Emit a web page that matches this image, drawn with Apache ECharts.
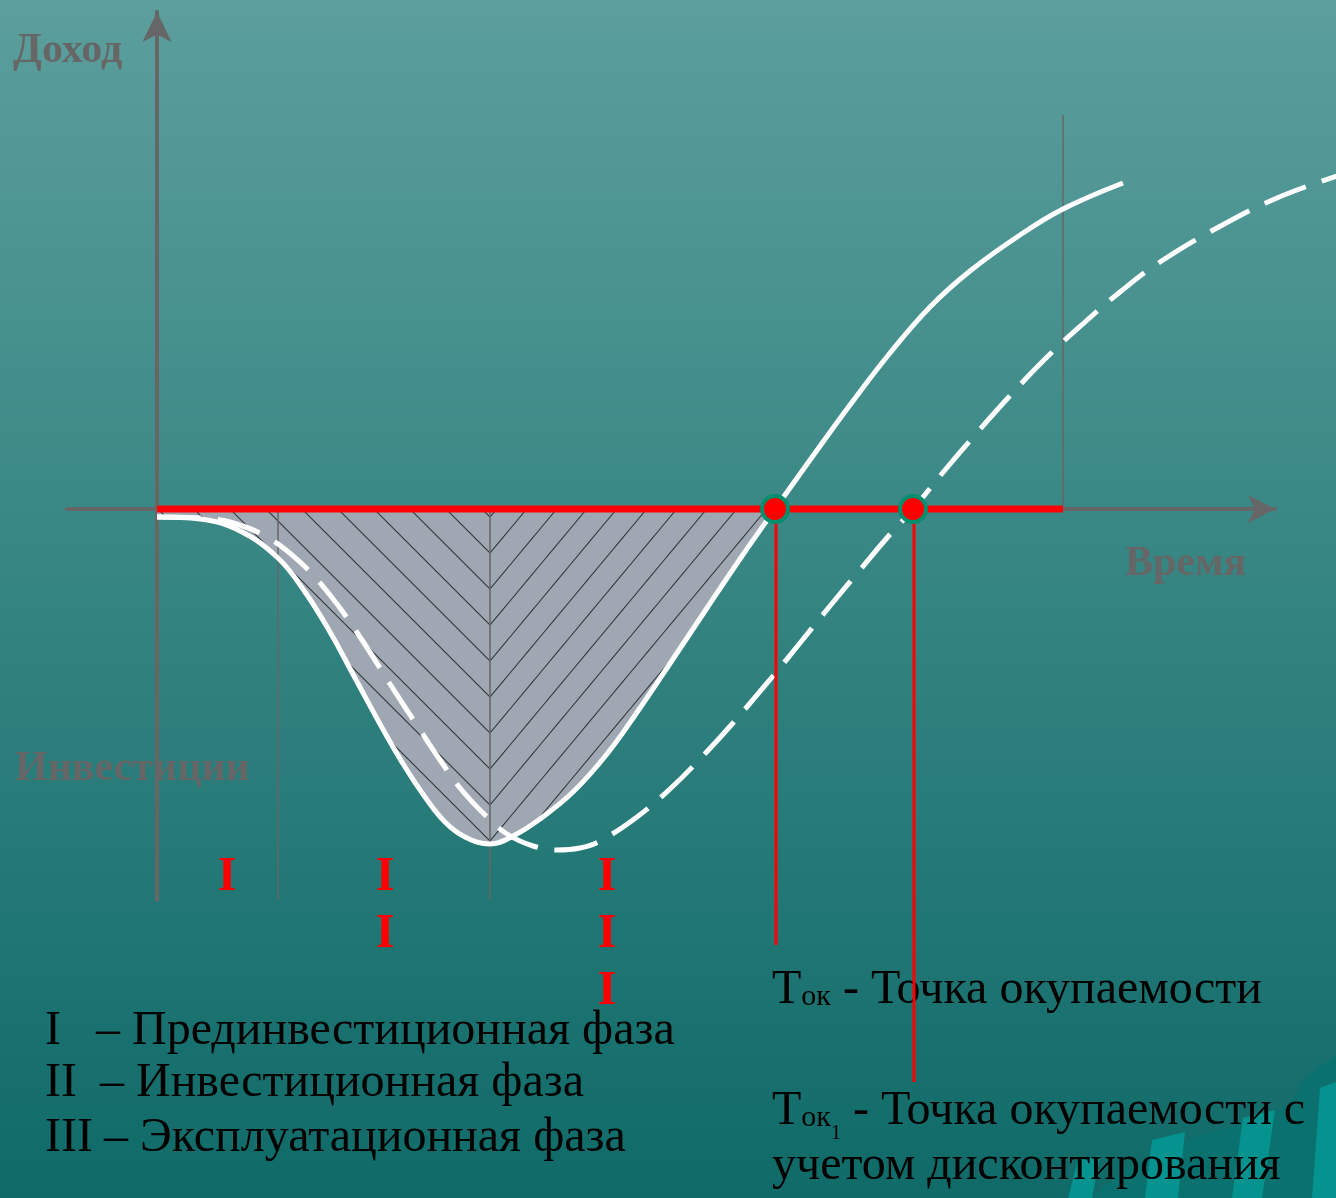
<!DOCTYPE html>
<html>
<head>
<meta charset="utf-8">
<script src="https://cdn.jsdelivr.net/npm/echarts@6/dist/echarts.min.js"></script>
<style>
html,body{margin:0;padding:0;overflow:hidden;background:#2f817f;}
#main{width:1336px;height:1198px;}
</style>
</head>
<body>
<div id="main"></div>
<script>
// ---- data (x: time from origin, y: income; units) ----
const solidCurve = [[0,-8],[43,-10],[83,-22],[121,-49],[148,-83],[173,-123],[198,-169],[223,-215],[248,-258],[268,-288],[288,-313],[308,-328],[333,-335],[356,-327],[383,-310],[416,-283],[450,-245],[483,-199],[516,-150],[550,-99],[583,-50],[618,0],[653,49],[693,104],[733,156],[773,202],[813,238],[863,274],[906,300],[966,326]];
const dashedCurve = [[0,-8],[43,-9],[73,-13],[110,-28],[143,-53],[173,-86],[203,-128],[233,-175],[263,-221],[283,-251],[303,-279],[328,-306],[350,-325],[376,-337],[400,-341],[423,-339],[443,-332],[480,-308],[513,-280],[543,-250],[576,-214],[616,-167],[643,-134],[673,-97],[703,-61],[729,-30],[756,0],[788,39],[818,74],[850,110],[888,150],[928,187],[963,217],[1000,245],[1060,281],[1120,311],[1183,334]];
const paybackPoints = [[618,0],[756,0]];
const paybackDrops = [-436,-573];
const phaseBounds = [121,333];
const horizonX = 906;
const horizonTop = 394;
const axisMinY = -391, axisMaxY = 497, axisMinX = -90, axisMaxX = 1118;
const phaseNumerals = ['I','II','III'];
const phaseNames = ['Прединвестиционная фаза','Инвестиционная фаза','Эксплуатационная фаза'];
const yLabel = 'Доход', xLabel = 'Время', invLabel = 'Инвестиции';
const paybackText = 'Точка окупаемости';
const paybackDiscText = ['Точка окупаемости с', 'учетом дисконтирования'];

// ---- hatch patterns ----
function hatch(left){
  const c = document.createElement('canvas');
  const tw = left ? 36 : 30, th = 36;
  c.width = tw; c.height = th;
  const g = c.getContext('2d');
  g.fillStyle = '#9fa7b3'; g.fillRect(0,0,tw,th);
  g.strokeStyle = '#30363a'; g.lineWidth = 1.1;
  g.beginPath();
  for (let k=-3;k<=3;k++){
    if (left){ const c0 = 27 + k*th; g.moveTo(-4, c0-4); g.lineTo(tw+4, c0+tw+4); }
    else { const d = 25 + k*th; g.moveTo(-4, d+4.8); g.lineTo(tw+4, d-1.2*(tw+4)); }
  }
  g.stroke();
  return c;
}
const patLeft = {image: hatch(true), repeat: 'repeat'};
const patRight = {image: hatch(false), repeat: 'repeat'};

// ---- text helper ----
const mctx = document.createElement('canvas').getContext('2d');
function segs(x, baseline, list, color, weight, z){
  const out = []; let cx = x;
  list.forEach(s => {
    const font = (weight||'normal') + ' ' + s.size + 'px "Liberation Serif", "Times New Roman", serif';
    mctx.font = font;
    const w = mctx.measureText(s.text).width;
    if (s.x !== undefined) cx = s.x;
    out.push({type:'text', z: z||-5, silent:true, style:{text:s.text, x:cx, y: baseline + (s.dy||0) - 0.3375*s.size, font:font, fill:color, textAlign:'left', verticalAlign:'middle', textVerticalAlign:'middle'}});
    cx += w;
  });
  return out;
}

const W = 1336, H = 1198;
const graphics = [];
graphics.push({type:'rect', z:-10, silent:true, shape:{x:0,y:0,width:W,height:H},
  style:{fill:new echarts.graphic.LinearGradient(0,0,0,1,[{offset:0,color:'#5c9f9d'},{offset:0.45,color:'#388784'},{offset:1,color:'#0f6a68'}])}});
// decorative corner
graphics.push({type:'polygon', z:-9, silent:true, shape:{points:[[1336,1055],[1305,1078],[1290,1105],[1250,1122],[1200,1135],[1130,1165],[1090,1198],[1336,1198]]}, style:{fill:'#0b716e'}});
[[[1068,1198],[1078,1160],[1100,1156],[1092,1198]],[[1145,1198],[1152,1140],[1185,1132],[1178,1198]],[[1232,1198],[1243,1118],[1275,1110],[1262,1198]],[[1312,1198],[1320,1088],[1336,1082],[1336,1198]]].forEach(p=>{
  graphics.push({type:'polygon', z:-9, silent:true, shape:{points:p}, style:{fill:'#05938f'}});
});

// axis labels (grey bold)
graphics.push(...segs(13, 65, [{text:yLabel,size:42}], '#666666', 'bold'));
graphics.push(...segs(1125, 578, [{text:xLabel,size:42}], '#666666', 'bold'));
graphics.push(...segs(15, 783, [{text:invLabel,size:42}], '#666666', 'bold'));

// roman numerals under phases
const numCols = [227, 385, 607];
const numRows = [878, 935, 992];
phaseNumerals.forEach((n, i) => {
  for (let k=0;k<n.length;k++){
    graphics.push({type:'text', z:10, silent:true, style:{text:'I', x:numCols[i], y:numRows[k], font:'bold 48px "Liberation Serif", serif', fill:'#ff0000', textAlign:'center', verticalAlign:'middle', textVerticalAlign:'middle'}});
  }
});

// phase legend
const legBase = [1048, 1100, 1155];
const legDash = [96, 100, 104];
phaseNames.forEach((nm, i) => {
  graphics.push(...segs(45, legBase[i], [{text:phaseNumerals[i],size:48},{text:'– '+nm,size:48,x:legDash[i]}], '#000000'));
});

// payback legend
graphics.push(...segs(772, 1007, [{text:'Т',size:48},{text:'ок',size:30},{text:' - '+paybackText,size:48}], '#000000'));
graphics.push(...segs(772, 1128, [{text:'Т',size:48},{text:'ок',size:30},{text:'1',size:20,dy:12},{text:' - '+paybackDiscText[0],size:48}], '#000000'));
graphics.push(...segs(772, 1183, [{text:paybackDiscText[1],size:48}], '#000000'));

const base = {xAxisIndex:1, yAxisIndex:1, symbol:'none', clip:false, silent:true};
const guideSeries = phaseBounds.map(x => Object.assign({type:'line', data:[[x,0],[x,axisMinY]], z:2, lineStyle:{color:'#666666', width:1.5}}, base));
guideSeries.push(Object.assign({type:'line', data:[[horizonX,0],[horizonX,horizonTop]], z:2, lineStyle:{color:'#666666', width:1.5}}, base));
const dropSeries = paybackPoints.map((p,i) => Object.assign({type:'line', data:[[p[0]+1,0],[p[0]+1,paybackDrops[i]]], z:4, lineStyle:{color:'#ff0000', width:3}}, base));

const hiddenAxis = {type:'value', show:false, axisLine:{show:false}, axisTick:{show:false}, axisLabel:{show:false}, splitLine:{show:false}};
const chart = echarts.init(document.getElementById('main'), null, {renderer:'canvas'});
chart.setOption({
  animation:false,
  backgroundColor:'transparent',
  grid:[{left:67, right:61, top:12, bottom:298},{left:0, right:0, top:0, bottom:0}],
  xAxis:[
    {gridIndex:0, type:'value', min:axisMinX, max:axisMaxX, axisLine:{show:true, onZero:true, symbol:['none','arrow'], symbolSize:[21,27], lineStyle:{color:'#666666', width:4}}, axisTick:{show:false}, axisLabel:{show:false}, splitLine:{show:false}},
    Object.assign({gridIndex:1, min:-157, max:1179}, hiddenAxis)
  ],
  yAxis:[
    {gridIndex:0, type:'value', min:axisMinY, max:axisMaxY, axisLine:{show:true, onZero:true, symbol:['none','arrow'], symbolSize:[22,30], lineStyle:{color:'#666666', width:4}}, axisTick:{show:false}, axisLabel:{show:false}, splitLine:{show:false}},
    Object.assign({gridIndex:1, min:-689, max:509}, hiddenAxis)
  ],
  graphic:{elements:graphics},
  series:[
    Object.assign({type:'line', data:solidCurve.slice(0,13), smooth:0.4, z:1, lineStyle:{width:0}, areaStyle:{color:patLeft, opacity:1}}, base),
    Object.assign({type:'line', data:solidCurve.slice(12,22), smooth:0.4, z:1, lineStyle:{width:0}, areaStyle:{color:patRight, opacity:1}}, base),
    ...guideSeries,
    Object.assign({type:'line', data:dashedCurve, smooth:0.4, z:3, lineStyle:{color:'#ffffff', width:5, type:[44,17]}}, base),
    Object.assign({type:'line', data:solidCurve, smooth:0.4, z:3, lineStyle:{color:'#ffffff', width:5}}, base),
    Object.assign({type:'line', data:[[0,0],[horizonX,0]], z:4, lineStyle:{color:'#ff0000', width:7}}, base),
    ...dropSeries,
    {type:'scatter', xAxisIndex:1, yAxisIndex:1, data:paybackPoints, symbolSize:26, z:5, silent:true, itemStyle:{color:'#ff0000', borderColor:'#008f6c', borderWidth:4, opacity:1}}
  ]
});
</script>
</body>
</html>
